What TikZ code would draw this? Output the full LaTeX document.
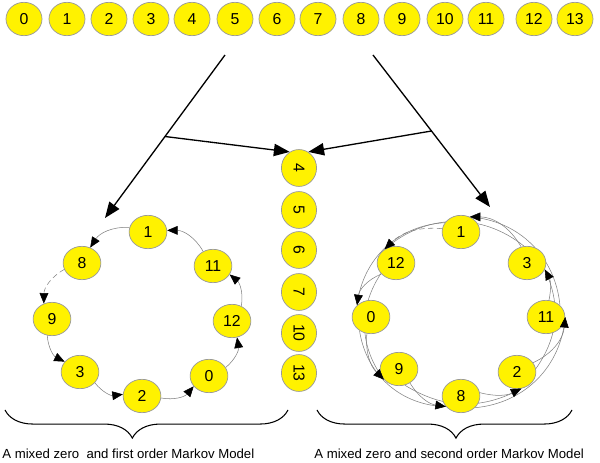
\documentclass[tikz,border=0pt]{standalone}
\usepackage{fontspec}
\setmainfont{Liberation Sans}
\usepackage{tikz}
\usetikzlibrary{shapes,arrows.meta,positioning,calc,decorations.pathreplacing}
\pgfdeclarelayer{background}
\pgfsetlayers{background,main}

\tikzset{
    state/.style={ellipse, draw=gray!80, fill=yellow, inner sep=0pt, minimum width=20.5pt, minimum height=19pt, font=\fontsize{9}{10}\selectfont},
    cyc/.style={state, minimum width=21.5pt},
    trans/.style={draw=gray, line width=0.3pt, -{Triangle[length=6pt,width=5pt,color=black]}},
    skip/.style={draw=gray, line width=0.3pt},
    bigarrow/.style={line width=0.75pt, -{Triangle[length=9pt,width=7pt]}}
}

\begin{document}
\begin{tikzpicture}[x=0.02cm,y=0.02cm]
    \useasboundingbox (0,0) rectangle (600,-463);

    % Top row of symbols
    \foreach \n/\x in {0/24,1/67,2/109,3/151,4/192,5/235,6/277,7/318,8/361,9/402,10/445,11/486,12/534,13/575}
        \node[state] (t\n) at (\x,-19) {\n};

    % Middle column (rotated)
    \foreach \n/\y in {4/168,5/210,6/250,7/292,10/333,13/373}
        \node[state, rotate=-90, minimum width=21pt, minimum height=20pt] (m\n) at (299,-\y) {\n};

    % Left cycle: zero and first order
    \node[cyc] (l1) at (148,-232) {1};
    \node[cyc] (l8) at (82,-263) {8};
    \node[cyc] (l9) at (52,-319) {9};
    \node[cyc] (l3) at (80,-372) {3};
    \node[cyc] (l2) at (142,-396) {2};
    \node[cyc] (l0) at (209,-376) {0};
    \node[cyc] (l12) at (232,-321) {12};
    \node[cyc] (l11) at (213,-266) {11};

    \draw[trans] (l1.166) to[bend right=30] (l8.62);
    \draw[trans, densely dashed] (l8.200) to[bend right=30] (l9.118);
    \draw[trans] (l9.254) to[bend right=30] (l3.146);
    \draw[trans] (l3.324) to[bend right=30] (l2.175);
    \draw[trans] (l2.354) to[bend right=30] (l0.214);
    \draw[trans] (l0.27) to[bend right=30] (l12.287);
    \draw[trans] (l12.58) to[bend right=30] (l11.333);
    \draw[trans] (l11.124) to[bend right=30] (l1.5);

    % Right cycle: zero and second order
    \node[cyc] (r1) at (461,-232) {1};
    \node[cyc] (r12) at (396,-263) {12};
    \node[cyc] (r0) at (371,-317) {0};
    \node[cyc] (r9) at (399,-369) {9};
    \node[cyc] (r8) at (461,-396) {8};
    \node[cyc] (r2) at (517,-372) {2};
    \node[cyc] (r11) at (546,-317) {11};
    \node[cyc] (r3) at (527,-263) {3};

    % second order links (no tip), kept behind the states
    \begin{pgfonlayer}{background}
    \draw[skip] (r3.100) to[bend right=40] (r12.130);
    \draw[skip] (r1.150) to[bend right=40] (r0.140);
    \draw[skip] (r12.215) to[bend right=35] (r9.215);
    \draw[skip] (r0.230) to[bend right=40] (r8.215);
    \draw[skip] (r9.290) to[bend right=30] (r2.285);
    \draw[skip] (r8.320) to[bend right=40] (r11.0);
    \draw[skip] (r2.10) to[bend right=30] (r3.340);
    \draw[skip] (r11.40) to[bend right=40] (r1.60);
    \end{pgfonlayer}
    % first order links
    \draw[trans, densely dashed] (r1.170) to[bend right=25] (r12.130);
    \draw[trans] (r12.217) to[bend right=30] (r0.140);
    \draw[trans] (r0.256) to[bend right=25] (r9.215);
    \draw[trans] (r9.308) to[bend right=25] (r8.215);
    \draw[trans] (r8.10) to[bend right=20] (r2.285);
    \draw[trans] (r2.30) to[bend right=30] (r11.0);
    \draw[trans] (r11.80) to[bend right=20] (r3.340);
    \draw[trans] (r3.110) to[bend right=30] (r1.60);

    % Big arrows
    \coordinate (ls) at (225,-55);
    \coordinate (le) at (105,-218);
    \coordinate (rs) at (373,-55);
    \coordinate (re) at (490,-207);
    \draw[bigarrow] (ls) -- (le);
    \draw[bigarrow] (rs) -- (re);
    \draw[bigarrow] ($(ls)!0.5!(le)$) -- (m4.210);
    \draw[bigarrow] ($(rs)!0.5!(re)$) -- (m4.150);

    % Braces and captions
    \draw[line width=0.6pt, decorate, decoration={brace, mirror, amplitude=16pt, aspect=0.45}] (5,-410) -- (288,-410);
    \draw[line width=0.6pt, decorate, decoration={brace, mirror, amplitude=16pt, aspect=0.545}] (317,-410) -- (572,-410);
    \node[anchor=west, inner sep=0pt, font=\fontsize{7.5}{8}\selectfont] (lcap) at (2,-454) {A mixed zero\ \ and first order Markov Model};
    \node[anchor=west, inner sep=0pt, font=\fontsize{7.5}{8}\selectfont] (rcap) at (314,-454) {A mixed zero and second order Markov Model};
\end{tikzpicture}
\end{document}
